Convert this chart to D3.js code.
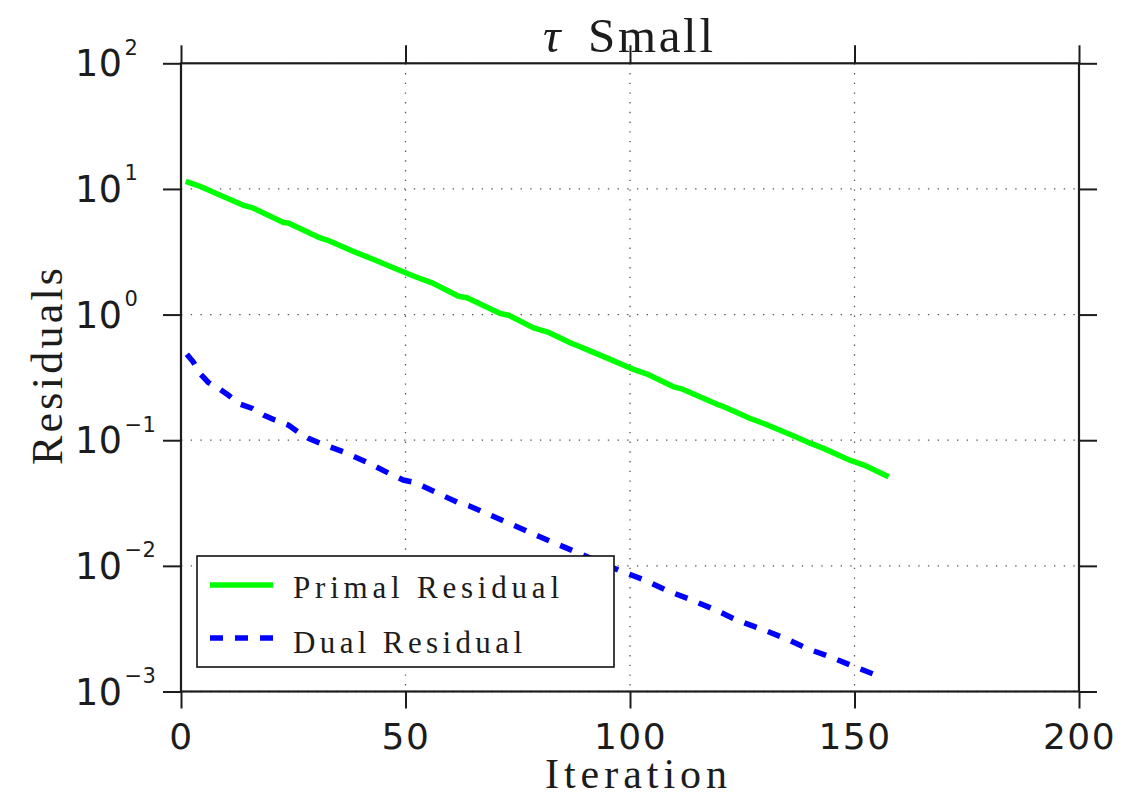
<!DOCTYPE html>
<html>
<head>
<meta charset="utf-8">
<script src="https://cdn.jsdelivr.net/npm/d3@7"></script>
<style>
  body { margin: 0; background: #fff; }
  svg { display: block; }
</style>
</head>
<body>
<script>
// values
const primalIter = [1.05, 4.2, 7.6, 13.9, 15.8, 22.8, 23.9, 31.0, 33.2, 38.8, 43.3, 47.7, 52.2, 55.9, 61.8, 63.7, 71.1, 73.0, 78.5, 81.9, 86.7, 88.2, 91.2, 95.6, 100.8, 103.8, 109.7, 111.6, 119.4, 120.9, 126.8, 130.2, 135.7, 139.4, 143.1, 149.1, 152.1, 157.6];
const primalValues = [11.5, 10.5, 9.29, 7.41, 7.11, 5.41, 5.36, 4.07, 3.84, 3.14, 2.71, 2.33, 2.00, 1.79, 1.40, 1.36, 1.02, 0.989, 0.783, 0.721, 0.596, 0.568, 0.512, 0.440, 0.366, 0.336, 0.266, 0.256, 0.193, 0.185, 0.149, 0.134, 0.111, 0.0971, 0.0861, 0.0691, 0.0634, 0.0512];

const dualIter = [1.3, 2.7, 4.2, 6.1, 8.7, 10.5, 13.1, 15.9, 18.5, 20.9, 23.9, 26.0, 28.5, 31.1, 36.5, 41.7, 46.8, 49.5, 52.0, 57.3, 61.6, 64.1, 79.8, 87.5, 97.8, 103.3, 108.3, 113.7, 118.7, 124.1, 129.3, 134.5, 139.7, 144.9, 150.1, 155.8];
const dualValues = [0.484, 0.421, 0.340, 0.288, 0.254, 0.229, 0.194, 0.179, 0.158, 0.145, 0.132, 0.117, 0.103, 0.0943, 0.0800, 0.0661, 0.0534, 0.0482, 0.0462, 0.0377, 0.0320, 0.0301, 0.0171, 0.0131, 0.00914, 0.00771, 0.00634, 0.00535, 0.00451, 0.00366, 0.00314, 0.00265, 0.00218, 0.00187, 0.00157, 0.00131];

const xTicks = [0, 50, 100, 150, 200];
const yTicks = [1e-3, 1e-2, 1e-1, 1e0, 1e1, 1e2];
const yExponents = ["\u22123", "\u22122", "\u22121", "0", "1", "2"];

const seriesNames = ["Primal Residual", "Dual Residual"];

const width = 1146;
const height = 797;
const plotLeft = 181, plotRight = 1079, plotTop = 63.3, plotBottom = 691.5;
const serif = "'Liberation Serif', 'Times New Roman', serif";
const sans = "'DejaVu Sans', sans-serif";
const ink = "#1c1c1c";

const x = d3.scaleLinear().domain([0, 200]).range([plotLeft, plotRight]);
const y = d3.scaleLog().domain([1e-3, 1e2]).range([plotBottom, plotTop]);

const svg = d3.select("body").append("svg")
    .attr("width", width)
    .attr("height", height);

// dotted grid
const grid = svg.append("g").attr("id", "grid");
grid.selectAll("line.gx")
    .data(xTicks)
    .enter()
    .append("line")
    .attr("x1", (d) => x(d)).attr("x2", (d) => x(d))
    .attr("y1", plotTop).attr("y2", plotBottom)
    .attr("stroke", "#555").attr("stroke-width", 1.3)
    .attr("stroke-dasharray", "1.4,8.3");
grid.selectAll("line.gy")
    .data(yTicks)
    .enter()
    .append("line")
    .attr("x1", plotLeft).attr("x2", plotRight)
    .attr("y1", (d) => y(d)).attr("y2", (d) => y(d))
    .attr("stroke", "#555").attr("stroke-width", 1.3)
    .attr("stroke-dasharray", "1.4,8.3");

// lines
const line = d3.line().x((d) => x(d[0])).y((d) => y(d[1]));
const primal = primalIter.map((d, i) => [d, primalValues[i]]);
const dual = dualIter.map((d, i) => [d, dualValues[i]]);

svg.append("path")
    .datum(primal)
    .attr("d", line)
    .attr("fill", "none")
    .attr("stroke", "#00ff00")
    .attr("stroke-width", 5.5)
    .attr("stroke-linejoin", "round");

svg.append("path")
    .datum(dual)
    .attr("d", line)
    .attr("fill", "none")
    .attr("stroke", "#0000ff")
    .attr("stroke-width", 5.5)
    .attr("stroke-dasharray", "13,12");

// axes: ticks point outward on all four sides
const styleAxis = (g) => {
    g.select(".domain").remove();
    g.selectAll(".tick line").attr("stroke", ink).attr("stroke-width", 2);
};

svg.append("g")
    .attr("transform", `translate(0,${plotBottom})`)
    .call(d3.axisBottom(x).tickValues(xTicks).tickSize(17).tickFormat((d) => d))
    .call(styleAxis)
    .call((g) => g.selectAll(".tick text")
        .attr("y", 57.5).attr("dy", 0)
        .attr("fill", ink)
        .style("font-family", sans)
        .style("font-size", "36px")
        .style("letter-spacing", "1.5px"));

svg.append("g")
    .attr("transform", `translate(0,${plotTop})`)
    .call(d3.axisTop(x).tickValues(xTicks).tickSize(18).tickFormat(""))
    .call(styleAxis);

svg.append("g")
    .attr("transform", `translate(${plotRight},0)`)
    .call(d3.axisRight(y).tickValues(yTicks).tickSize(18).tickFormat(""))
    .call(styleAxis);

const yAxis = svg.append("g")
    .attr("transform", `translate(${plotLeft},0)`)
    .call(d3.axisLeft(y).tickValues(yTicks).tickSize(18).tickFormat(""))
    .call(styleAxis);

yAxis.selectAll(".tick text").remove();
yAxis.selectAll(".tick")
    .append("text")
    .attr("x", -106)
    .attr("y", 12.5)
    .attr("text-anchor", "start")
    .attr("fill", ink)
    .style("font-family", sans)
    .style("font-size", "36.5px")
    .style("letter-spacing", "0.5px")
    .each(function (d, i) {
        const t = d3.select(this);
        t.append("tspan").text("10");
        t.append("tspan")
            .attr("dx", 2)
            .attr("dy", -21.5)
            .style("font-size", "21px")
            .text(yExponents[i]);
    });

// frame
svg.append("rect")
    .attr("x", plotLeft).attr("y", plotTop)
    .attr("width", plotRight - plotLeft).attr("height", plotBottom - plotTop)
    .attr("fill", "none")
    .attr("stroke", ink)
    .attr("stroke-width", 2.2);

// title and axis labels
const title = svg.append("text")
    .attr("x", 543)
    .attr("y", 52)
    .attr("fill", ink)
    .style("font-family", serif)
    .style("font-size", "49px");
title.append("tspan").style("font-style", "italic").text("\u03c4");
title.append("tspan")
    .attr("x", 588)
    .attr("textLength", 125)
    .attr("lengthAdjust", "spacing")
    .text("Small");

svg.append("text")
    .attr("x", 545)
    .attr("y", 788)
    .attr("textLength", 182)
    .attr("lengthAdjust", "spacing")
    .attr("fill", ink)
    .style("font-family", serif)
    .style("font-size", "42px")
    .text("Iteration");

svg.append("text")
    .attr("transform", "translate(62,465) rotate(-90)")
    .attr("textLength", 197)
    .attr("lengthAdjust", "spacing")
    .attr("fill", ink)
    .style("font-family", serif)
    .style("font-size", "44px")
    .text("Residuals");

// legend
const legend = svg.append("g").attr("id", "legend");
legend.append("rect")
    .attr("x", 197).attr("y", 556)
    .attr("width", 417).attr("height", 111)
    .attr("fill", "#fff")
    .attr("stroke", "#111")
    .attr("stroke-width", 1.6);

const legendColors = ["#00ff00", "#0000ff"];
const legendDash = [null, "13,12"];
const legendRowY = [585, 638];
const legendBase = [598, 653];
const legendText = [266, 229];

seriesNames.forEach((name, i) => {
    legend.append("line")
        .attr("x1", 210).attr("x2", 273)
        .attr("y1", legendRowY[i]).attr("y2", legendRowY[i])
        .attr("stroke", legendColors[i])
        .attr("stroke-width", 5.5)
        .attr("stroke-dasharray", legendDash[i]);
    legend.append("text")
        .attr("x", 293)
        .attr("y", legendBase[i])
        .attr("textLength", legendText[i])
        .attr("lengthAdjust", "spacing")
        .attr("fill", ink)
        .style("font-family", serif)
        .style("font-size", "31px")
        .text(name);
});
</script>
</body>
</html>
